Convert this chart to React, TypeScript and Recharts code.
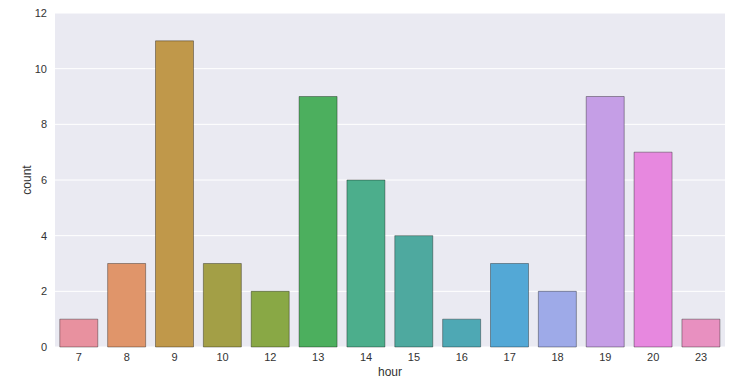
import { BarChart, Bar, XAxis, YAxis, CartesianGrid, Cell, Label } from 'recharts';

const hours = ['7', '8', '9', '10', '12', '13', '14', '15', '16', '17', '18', '19', '20', '23'];
const counts = [1, 3, 11, 3, 2, 9, 6, 4, 1, 3, 2, 9, 7, 1];
const colors = [
  '#e8919f', '#e0956a', '#c0984a', '#a39f46', '#89a845', '#4caf5e', '#4cae8c',
  '#4ea99f', '#4ea8b4', '#53a8d6', '#9eaae8', '#c59ee6', '#e788df', '#e890c0',
];
const yTicks = [0, 2, 4, 6, 8, 10, 12];

const data = hours.map((h, i) => ({ hour: h, count: counts[i] }));

const tickStyle = { fontSize: 11, fill: '#333', fontFamily: 'Liberation Sans, Arial, sans-serif' };

export default function App() {
  return (
    <div style={{ position: 'absolute', left: 0, top: 0, background: '#fff' }}>
      <BarChart
        width={751}
        height={385}
        data={data}
        margin={{ top: 13, right: 26, bottom: 0, left: 5 }}
        barCategoryGap="10%"
      >
        <CartesianGrid fill="#eaeaf2" stroke="#ffffff" strokeWidth={1} vertical={false} />
        <XAxis
          dataKey="hour"
          height={38}
          tickLine={false}
          axisLine={false}
          tickSize={0}
          tickMargin={6}
          tick={tickStyle}
          interval={0}
        >
          <Label value="hour" position="center" dy={6} style={{ fontSize: 12, fill: '#333', fontFamily: 'Liberation Sans, Arial, sans-serif' }} />
        </XAxis>
        <YAxis
          width={50}
          domain={[0, 12]}
          ticks={yTicks}
          tickLine={false}
          axisLine={false}
          tickSize={0}
          tickMargin={8}
          tick={tickStyle}
        >
          <Label value="count" angle={-90} position="center" dx={-3} style={{ fontSize: 12, fill: '#333', fontFamily: 'Liberation Sans, Arial, sans-serif' }} />
        </YAxis>
        <Bar dataKey="count" isAnimationActive={false} stroke="#000" strokeOpacity={0.35} strokeWidth={1}>
          {data.map((d, i) => (
            <Cell key={d.hour} fill={colors[i]} />
          ))}
        </Bar>
      </BarChart>
    </div>
  );
}
